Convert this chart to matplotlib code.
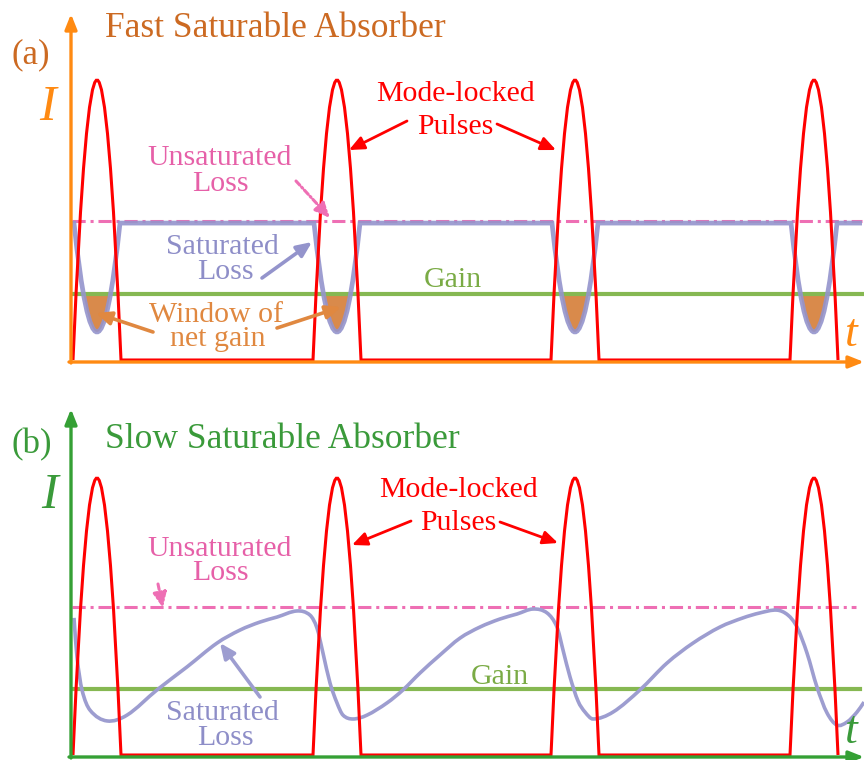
import numpy as np
import matplotlib
matplotlib.use("Agg")
import matplotlib.pyplot as plt
from matplotlib.path import Path
from matplotlib.patches import PathPatch, Rectangle

plt.rcParams['font.family'] = ['Liberation Serif', 'DejaVu Serif']
plt.rcParams['lines.scale_dashes'] = False

# pulse train (time in arbitrary units, intensity normalised to the peak)
pulse_t = [27, 267, 505, 744]
pulse_half = 24
pulse_peak = 1.0

# (a) fast absorber levels
unsat_loss_a = 0.496
sat_loss_a = 0.489
dip_min_a = 0.10
dip_half_a = 23
gain_a = 0.236

# (b) slow absorber levels and loss trace
unsat_loss_b = 0.534
gain_b = 0.238
loss_b_t = [4, 7, 12, 20, 37, 57, 87, 117, 147, 170, 190, 207, 227, 240, 247,
            253, 260, 267, 273, 283, 297, 317, 333, 350, 370, 390, 410, 430,
            447, 463, 477, 487, 493, 500, 508, 515, 523, 543, 570, 597, 623,
            650, 673, 690, 707, 718, 727, 737, 747, 757, 767, 777, 787, 794]
loss_b = [0.495, 0.354, 0.235, 0.162, 0.123, 0.144, 0.235, 0.318, 0.404, 0.451,
          0.480, 0.498, 0.520, 0.505, 0.458, 0.368, 0.260, 0.188, 0.144, 0.130,
          0.144, 0.188, 0.235, 0.296, 0.361, 0.422, 0.462, 0.491, 0.509, 0.527,
          0.513, 0.462, 0.379, 0.282, 0.195, 0.155, 0.130, 0.155, 0.235, 0.332,
          0.404, 0.462, 0.495, 0.513, 0.523, 0.505, 0.462, 0.368, 0.245, 0.152,
          0.108, 0.119, 0.155, 0.191]

T_END = 792

RED = '#ff0000'
PURPLE_A = '#9494cc'
PURPLE_B = '#9d9dd0'
GREEN_GAIN = '#86b852'
PINK = '#ee6fb4'
FILL = '#d98a4b'


def pulse_path(centers, half, peak):
    verts, codes = [(centers[0] - half, 0)], [Path.MOVETO]
    for c in centers:
        verts += [(c - half, 0), (c, 2 * peak), (c + half, 0)]
        codes += [Path.LINETO, Path.CURVE3, Path.CURVE3]
    return Path(verts, codes)


def dip_path(centers, half, level, low, t0, t1):
    verts, codes = [(t0, level)], [Path.MOVETO]
    for c in centers:
        verts += [(max(c - half, t0), level), (c, 2 * low - level), (c + half, level)]
        codes += [Path.LINETO, Path.CURVE3, Path.CURVE3]
    verts.append((t1, level))
    codes.append(Path.LINETO)
    return Path(verts, codes)


def smooth_path(t, v):
    # cubic Hermite through the points, written as Bezier segments
    t = np.asarray(t, float)
    v = np.asarray(v, float)
    n = len(t)
    m = np.empty(n)
    m[1:-1] = (v[2:] - v[:-2]) / (t[2:] - t[:-2])
    m[0] = (v[1] - v[0]) / (t[1] - t[0])
    m[-1] = (v[-1] - v[-2]) / (t[-1] - t[-2])
    verts, codes = [(t[0], v[0])], [Path.MOVETO]
    for i in range(n - 1):
        h = t[i + 1] - t[i]
        verts += [(t[i] + h / 3, v[i] + m[i] * h / 3),
                  (t[i + 1] - h / 3, v[i + 1] - m[i + 1] * h / 3),
                  (t[i + 1], v[i + 1])]
        codes += [Path.CURVE4] * 3
    return Path(verts, codes)


fig = plt.figure(figsize=(8.64, 7.6), dpi=100)

ax_a = fig.add_axes([70 / 864, (760 - 360) / 760, 794 / 864, 360 / 760])
ax_a.set_xlim(0, 794)
ax_a.set_ylim(0, 360 / 280)
ax_b = fig.add_axes([70 / 864, (760 - 755) / 760, 794 / 864, 355 / 760])
ax_b.set_xlim(0, 794)
ax_b.set_ylim(0, 355 / 277)
for ax in (ax_a, ax_b):
    ax.axis('off')
    ax.patch.set_alpha(0)

dashdot = (0, (9.5, 3.5, 2.2, 3.5))

# ---- (a) fast saturable absorber
ax_a.plot([2, T_END], [gain_a, gain_a], color=GREEN_GAIN, lw=3, zorder=2)
for c in pulse_t:
    win = Path([(c - dip_half_a, sat_loss_a), (c, 2 * dip_min_a - sat_loss_a),
                (c + dip_half_a, sat_loss_a), (c - dip_half_a, sat_loss_a)],
               [Path.MOVETO, Path.CURVE3, Path.CURVE3, Path.CLOSEPOLY])
    patch = PathPatch(win, facecolor=FILL, edgecolor='none', zorder=1.5)
    ax_a.add_patch(patch)
    patch.set_clip_path(Rectangle((c - dip_half_a, 0), 2 * dip_half_a, gain_a,
                                  transform=ax_a.transData))
ax_a.plot([2, T_END], [unsat_loss_a, unsat_loss_a], color=PINK, lw=2.2,
          linestyle=dashdot, zorder=3)
ax_a.add_patch(PathPatch(dip_path(pulse_t, dip_half_a, sat_loss_a, dip_min_a, 2, T_END),
                         facecolor='none', edgecolor=PURPLE_A, lw=3.4, alpha=0.9,
                         zorder=4, clip_on=False))
ax_a.add_patch(PathPatch(pulse_path(pulse_t, pulse_half, pulse_peak),
                         facecolor='none', edgecolor=RED, lw=2.2, zorder=5,
                         clip_on=False, joinstyle='miter'))

# ---- (b) slow saturable absorber
ax_b.plot([2, 790], [gain_b, gain_b], color=GREEN_GAIN, lw=3, zorder=2)
ax_b.plot([2, 786], [unsat_loss_b, unsat_loss_b], color=PINK, lw=2.2,
          linestyle=dashdot, zorder=3)
ax_b.add_patch(PathPatch(smooth_path(loss_b_t, loss_b), facecolor='none',
                         edgecolor=PURPLE_B, lw=2.6, zorder=4, clip_on=False))
ax_b.add_patch(PathPatch(pulse_path(pulse_t, pulse_half, pulse_peak),
                         facecolor='none', edgecolor=RED, lw=2.2, zorder=5,
                         clip_on=False, joinstyle='miter'))

# ---- overlay in pixel units for axes arrows and labels
ov = fig.add_axes([0, 0, 1, 1], zorder=10)
ov.set_xlim(0, 864)
ov.set_ylim(760, 0)
ov.axis('off')
ov.patch.set_alpha(0)


def arrow(x0, y0, x1, y1, color, lw=2.2, ls='-', hl=0.45, hw=0.2):
    ov.annotate('', xy=(x1, y1), xytext=(x0, y0),
                arrowprops=dict(arrowstyle=f'-|>,head_length={hl},head_width={hw}',
                                color=color, lw=lw, linestyle=ls,
                                shrinkA=0, shrinkB=0, mutation_scale=20))


ORANGE_AX = '#ff8a12'
GREEN_AX = '#35a035'
TITLE_A = '#cc6a22'
TITLE_B = '#3a9a3a'

arrow(71, 363, 71, 14, ORANGE_AX, lw=2.4, hl=0.45, hw=0.18)
arrow(69, 362, 864, 362, ORANGE_AX, lw=2.4, hl=0.45, hw=0.18)
arrow(71, 758, 71, 409, GREEN_AX, lw=2.4, hl=0.45, hw=0.18)
arrow(69, 757, 864, 757, GREEN_AX, lw=2.4, hl=0.45, hw=0.18)

lab = 21.5
ov.text(31, 63, '(a)', fontsize=25, color=TITLE_A, ha='center', va='baseline')
ov.text(105, 37, 'Fast Saturable Absorber', fontsize=25.5, color=TITLE_A, va='baseline')
ov.text(48, 120, 'I', fontsize=36, style='italic', color=ORANGE_AX, ha='center', va='baseline')
ov.text(845, 346, 't', fontsize=33, style='italic', color=ORANGE_AX, ha='left', va='baseline')

ov.text(32, 453, '(b)', fontsize=25, color=TITLE_B, ha='center', va='baseline')
ov.text(105, 448, 'Slow Saturable Absorber', fontsize=25.5, color=TITLE_B, va='baseline')
ov.text(50, 508, 'I', fontsize=36, style='italic', color=TITLE_B, ha='center', va='baseline')
ov.text(845, 743, 't', fontsize=33, style='italic', color=TITLE_B, ha='left', va='baseline')

for ml_x, ml_y in [(455, 101), (458, 497)]:
    ov.text(ml_x, ml_y, 'Mode-locked', fontsize=lab, color=RED, ha='center', va='baseline')
    ov.text(ml_x, ml_y + 33, 'Pulses', fontsize=lab, color=RED, ha='center', va='baseline')
arrow(407, 121, 349, 150, RED, lw=2)
arrow(497, 124, 556, 150, RED, lw=2)
arrow(411, 521, 352, 545, RED, lw=2)
arrow(500, 522, 558, 543, RED, lw=2)

PINK_TXT = '#e660a8'
PURPLE_TXT = '#8e8ec8'
GAIN_TXT = '#7aab45'
WIN_TXT = '#e08840'

ov.text(220, 165, 'Unsaturated', fontsize=lab, color=PINK_TXT, ha='center', va='baseline')
ov.text(220, 191, 'Loss', fontsize=lab, color=PINK_TXT, ha='center', va='baseline')
arrow(296, 181, 330, 218, PINK, lw=2.2, ls=(0, (4, 2, 1, 2)))
ov.text(222, 254, 'Saturated', fontsize=lab, color=PURPLE_TXT, ha='center', va='baseline')
ov.text(225, 279, 'Loss', fontsize=lab, color=PURPLE_TXT, ha='center', va='baseline')
arrow(262, 278, 312, 242, PURPLE_A, lw=2.6)
ov.text(453, 287, 'Gain', fontsize=lab, color=GAIN_TXT, ha='center', va='baseline')
ov.text(216, 322, 'Window of', fontsize=lab, color=WIN_TXT, ha='center', va='baseline')
ov.text(218, 346, 'net gain', fontsize=lab, color=WIN_TXT, ha='center', va='baseline')
arrow(153, 332, 96, 313, WIN_TXT, lw=2.6)
arrow(277, 328, 341, 307, WIN_TXT, lw=2.6)

ov.text(220, 556, 'Unsaturated', fontsize=lab, color=PINK_TXT, ha='center', va='baseline')
ov.text(220, 580, 'Loss', fontsize=lab, color=PINK_TXT, ha='center', va='baseline')
arrow(158, 584, 163, 608, PINK, lw=2.2, ls=(0, (4, 2, 1, 2)))
ov.text(500, 684, 'Gain', fontsize=lab, color=GAIN_TXT, ha='center', va='baseline')
ov.text(222, 720, 'Saturated', fontsize=lab, color=PURPLE_TXT, ha='center', va='baseline')
ov.text(225, 745, 'Loss', fontsize=lab, color=PURPLE_TXT, ha='center', va='baseline')
arrow(260, 697, 220, 643, PURPLE_B, lw=2.6)

fig.savefig('out.png', dpi=100, facecolor='white')
